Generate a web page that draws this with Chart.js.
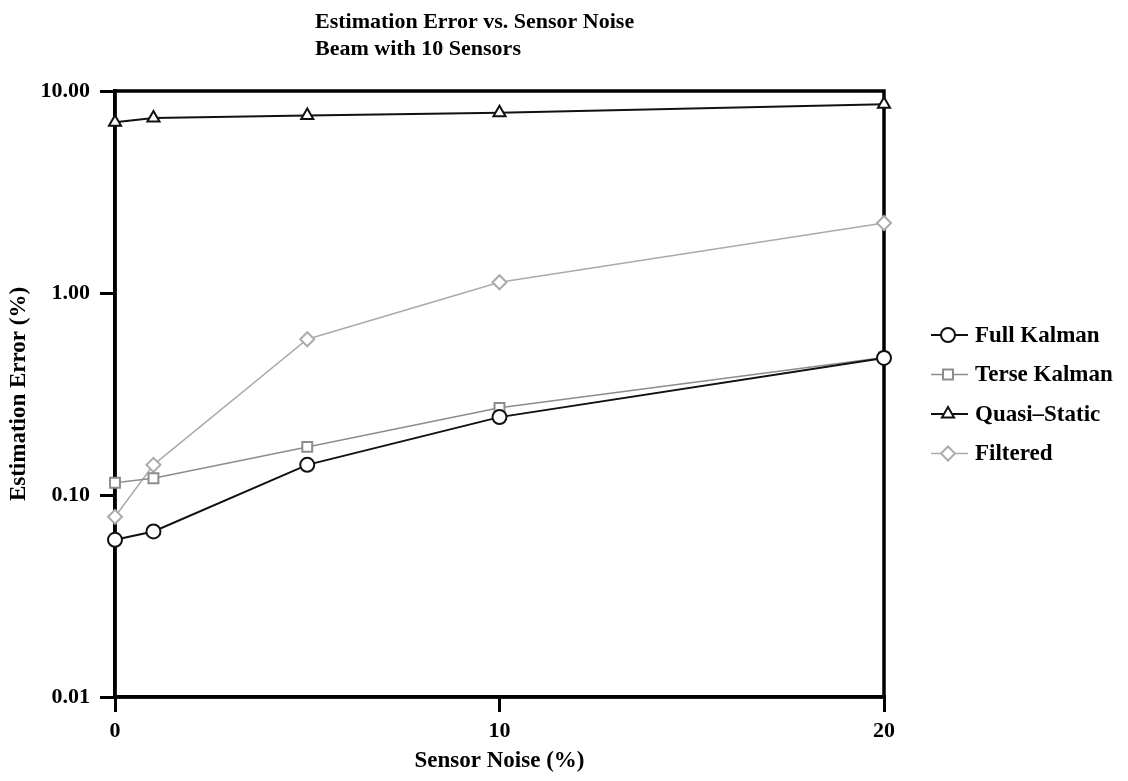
<!DOCTYPE html>
<html>
<head>
<meta charset="utf-8">
<title>Estimation Error vs. Sensor Noise</title>
<script src="https://cdn.jsdelivr.net/npm/chart.js@4.4.1/dist/chart.umd.min.js"></script>
<style>
  html, body { margin: 0; padding: 0; background: #fff; }
  #wrap { width: 1128px; height: 781px; position: relative; }
</style>
</head>
<body>
<div id="wrap"><canvas id="errChart"></canvas></div>
<script>
// values (log y axis)
const noise = [0, 1, 5, 10, 20];
const fullKalman = [0.060, 0.066, 0.141, 0.243, 0.477];
const terseKalman = [0.115, 0.121, 0.173, 0.270, 0.480];
const quasiStatic = [7.00, 7.35, 7.57, 7.80, 8.60];
const filtered = [0.078, 0.141, 0.590, 1.130, 2.220];

const yTicks = [0.01, 0.1, 1, 10];
const xTicks = [0, 10, 20];
const titleLines = ['Estimation Error vs. Sensor Noise', 'Beam with 10 Sensors'];

const serif = "'Liberation Serif', 'Times New Roman', serif";

const toPoints = (ys) => noise.map((x, i) => ({ x: x, y: ys[i] }));

// title drawn as two left aligned lines above the plot box
const titlePlugin = {
    id: 'plotTitle',
    afterDraw(chart) {
        const ctx = chart.ctx;
        ctx.save();
        ctx.font = 'bold 22px ' + serif;
        ctx.fillStyle = '#000';
        ctx.textAlign = 'left';
        ctx.textBaseline = 'middle';
        titleLines.forEach((line, i) => {
            ctx.fillText(line, chart.chartArea.left + 200, 22 + i * 27);
        });
        ctx.restore();
    }
};

// thick frame round the plot area
const framePlugin = {
    id: 'frame',
    beforeDatasetsDraw(chart) {
        const { left, top, right, bottom } = chart.chartArea;
        const ctx = chart.ctx;
        ctx.save();
        ctx.strokeStyle = '#000';
        ctx.lineWidth = 3.5;
        ctx.strokeRect(left, top, right - left, bottom - top);
        ctx.restore();
    }
};

// legend on the right: line - marker - line, then label
const legendPlugin = {
    id: 'sideLegend',
    afterDraw(chart) {
        const ctx = chart.ctx;
        const x0 = chart.chartArea.right + 47;
        const y0 = chart.chartArea.top + 244;
        ctx.save();
        chart.data.datasets.forEach((ds, i) => {
            const y = y0 + i * 39.5;
            ctx.strokeStyle = ds.borderColor;
            ctx.lineWidth = ds.borderWidth;
            ctx.beginPath();
            ctx.moveTo(x0, y);
            ctx.lineTo(x0 + 37, y);
            ctx.stroke();
            ctx.fillStyle = '#fff';
            ctx.strokeStyle = ds.pointBorderColor;
            ctx.lineWidth = ds.pointBorderWidth;
            Chart.helpers.drawPoint(ctx, {
                pointStyle: ds.pointStyle,
                radius: ds.pointRadius,
                rotation: 0,
                borderWidth: ds.pointBorderWidth
            }, x0 + 17, y);
            ctx.fillStyle = '#000';
            ctx.font = 'bold 23px ' + serif;
            ctx.textAlign = 'left';
            ctx.textBaseline = 'middle';
            ctx.fillText(ds.label, x0 + 44, y + 1);
        });
        ctx.restore();
    }
};

const makeSeries = (label, ys, color, style, radius, width) => ({
    label: label,
    data: toPoints(ys),
    borderColor: color,
    borderWidth: width,
    backgroundColor: '#fff',
    pointStyle: style,
    pointRadius: radius,
    pointHoverRadius: radius,
    pointBackgroundColor: '#fff',
    pointBorderColor: color,
    pointBorderWidth: 2,
    tension: 0,
    clip: false
});

const ctx = document.getElementById('errChart').getContext('2d');
new Chart(ctx, {
    type: 'line',
    data: {
        datasets: [
            makeSeries('Full Kalman', fullKalman, '#111', 'circle', 7, 2),
            makeSeries('Terse Kalman', terseKalman, '#8c8c8c', 'rect', 7, 1.5),
            makeSeries('Quasi\u2013Static', quasiStatic, '#111', 'triangle', 7, 2),
            makeSeries('Filtered', filtered, '#ababab', 'rectRot', 7, 1.5)
        ]
    },
    options: {
        responsive: true,
        maintainAspectRatio: false,
        animation: false,
        layout: { padding: { top: 91, right: 244, left: 0, bottom: 0 } },
        plugins: {
            legend: { display: false },
            title: { display: false },
            tooltip: { enabled: false }
        },
        scales: {
            x: {
                type: 'linear',
                min: 0,
                max: 20,
                afterBuildTicks: (scale) => {
                    scale.ticks = xTicks.map((v) => ({ value: v }));
                },
                afterFit: (scale) => { scale.height = 84; },
                ticks: {
                    color: '#000',
                    padding: 6,
                    font: { family: serif, size: 22, weight: 'bold' }
                },
                grid: {
                    drawOnChartArea: false,
                    drawTicks: true,
                    tickLength: 15,
                    color: '#000',
                    lineWidth: 3
                },
                border: { display: true, color: '#000', width: 3.5 },
                title: {
                    display: true,
                    text: 'Sensor Noise (%)',
                    color: '#000',
                    padding: { top: 0, bottom: 6 },
                    font: { family: serif, size: 23, weight: 'bold' }
                }
            },
            y: {
                type: 'logarithmic',
                min: 0.01,
                max: 10,
                afterBuildTicks: (scale) => {
                    scale.ticks = yTicks.map((v) => ({ value: v, major: true }));
                },
                afterFit: (scale) => { scale.width = 115; },
                ticks: {
                    color: '#000',
                    padding: 10,
                    callback: (v) => Number(v).toFixed(2),
                    font: { family: serif, size: 22, weight: 'bold' }
                },
                grid: {
                    drawOnChartArea: false,
                    drawTicks: true,
                    tickLength: 15,
                    color: '#000',
                    lineWidth: 3
                },
                border: { display: true, color: '#000', width: 3.5 },
                title: {
                    display: true,
                    text: 'Estimation Error (%)',
                    color: '#000',
                    padding: { top: 5, bottom: 0 },
                    font: { family: serif, size: 23, weight: 'bold' }
                }
            }
        }
    },
    plugins: [framePlugin, titlePlugin, legendPlugin]
});
</script>
</body>
</html>
